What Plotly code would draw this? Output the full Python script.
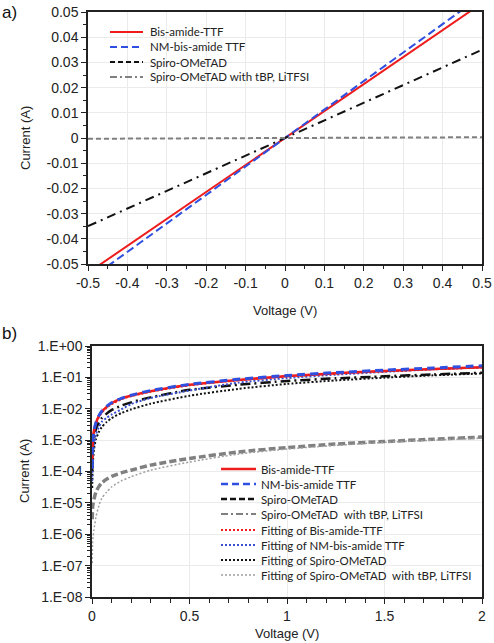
import plotly.graph_objects as go

W, H = 494, 643

# ---------------- data: panel a (linear I-V) ----------------
va = [-0.5, -0.4, -0.3, -0.2, -0.1, 0.0, 0.1, 0.2, 0.3, 0.4, 0.5]
ia_bis = [-0.0535, -0.0428, -0.0321, -0.0214, -0.0107, 0.0, 0.0107, 0.0214, 0.0321, 0.0428, 0.0535]
ia_nm = [-0.0565, -0.0452, -0.0339, -0.0226, -0.0113, 0.0, 0.0113, 0.0226, 0.0339, 0.0452, 0.0565]
ia_spiro = [-0.035, -0.028, -0.021, -0.014, -0.007, 0.0, 0.007, 0.014, 0.021, 0.028, 0.035]
ia_spiro_li = [-0.0003, -0.00024, -0.00018, -0.00012, -0.00006, 0.0, 0.00006, 0.00012, 0.00018, 0.00024, 0.0003]

a_xtickvals = [-0.5, -0.4, -0.3, -0.2, -0.1, 0.0, 0.1, 0.2, 0.3, 0.4, 0.5]
a_xticktext = ["-0.5", "-0.4", "-0.3", "-0.2", "-0.1", "0", "0.1", "0.2", "0.3", "0.4", "0.5"]
a_ytickvals = [-0.05, -0.04, -0.03, -0.02, -0.01, 0.0, 0.01, 0.02, 0.03, 0.04, 0.05]
a_yticktext = ["-0.05", "-0.04", "-0.03", "-0.02", "-0.01", "0", "0.01", "0.02", "0.03", "0.04", "0.05"]

# ---------------- data: panel b (log I-V) ----------------
vb = [0.001, 0.003, 0.006, 0.01, 0.02, 0.035, 0.05, 0.075, 0.1, 0.15, 0.2, 0.3, 0.5, 0.75, 1.0, 1.25, 1.5, 1.75, 2.0]
ib_bis = [2.5e-4, 7e-4, 1.3e-3, 2.0e-3, 3.5e-3, 5.8e-3, 8e-3, 0.0115, 0.015, 0.021, 0.026, 0.036, 0.058, 0.083, 0.11, 0.135, 0.16, 0.185, 0.21]
ib_nm = [1.3e-4, 6e-4, 1.2e-3, 2.0e-3, 3.6e-3, 6e-3, 8.3e-3, 0.012, 0.0155, 0.0215, 0.027, 0.038, 0.06, 0.087, 0.115, 0.142, 0.17, 0.2, 0.235]
ib_spiro = [1e-4, 3.5e-4, 7e-4, 1.1e-3, 2.2e-3, 3.6e-3, 5e-3, 7e-3, 9e-3, 0.0125, 0.016, 0.023, 0.04, 0.058, 0.077, 0.093, 0.108, 0.124, 0.14]
ib_spiro_li = [3e-6, 7e-6, 1e-5, 1.3e-5, 2.2e-5, 3.3e-5, 4.3e-5, 5.7e-5, 7e-5, 9e-5, 1.1e-4, 1.6e-4, 2.6e-4, 4.2e-4, 5.8e-4, 7.5e-4, 9e-4, 1.07e-3, 1.25e-3]
fit_bis = [2e-4, 6e-4, 1.15e-3, 1.8e-3, 3.2e-3, 5.3e-3, 7.4e-3, 0.0108, 0.014, 0.02, 0.025, 0.035, 0.056, 0.081, 0.107, 0.132, 0.157, 0.182, 0.207]
fit_nm = [5e-5, 1.8e-4, 4e-4, 7e-4, 1.5e-3, 2.6e-3, 3.8e-3, 5.2e-3, 6.5e-3, 9.5e-3, 0.014, 0.022, 0.038, 0.068, 0.095, 0.122, 0.15, 0.18, 0.21]
fit_spiro = [3e-5, 1.1e-4, 2.6e-4, 5e-4, 1.05e-3, 1.8e-3, 2.6e-3, 3.8e-3, 5e-3, 7.3e-3, 9.5e-3, 0.0145, 0.026, 0.043, 0.062, 0.08, 0.098, 0.116, 0.133]
fit_spiro_li = [1.2e-7, 5e-7, 9e-7, 1.4e-6, 3.5e-6, 8e-6, 1.4e-5, 2.2e-5, 3.2e-5, 5e-5, 6.8e-5, 1.1e-4, 2e-4, 3.6e-4, 5.2e-4, 6.8e-4, 8.5e-4, 1.0e-3, 1.15e-3]

a_names = ["Bis-amide-TTF", "NM-bis-amide TTF", "Spiro-OMeTAD", "Spiro-OMeTAD with tBP, LiTFSI"]
b_names = ["Bis-amide-TTF", "NM-bis-amide TTF", "Spiro-OMeTAD", "Spiro-OMeTAD  with tBP, LiTFSI",
           "Fitting of Bis-amide-TTF", "Fitting of NM-bis-amide TTF", "Fitting of Spiro-OMeTAD",
           "Fitting of Spiro-OMeTAD  with tBP, LiTFSI"]
b_tickvals = [1e0, 1e-1, 1e-2, 1e-3, 1e-4, 1e-5, 1e-6, 1e-7, 1e-8]
b_ticktext = ["1.E+00", "1.E-01", "1.E-02", "1.E-03", "1.E-04", "1.E-05", "1.E-06", "1.E-07", "1.E-08"]

# ---------------- styles ----------------
RED, BLUE, BLACK, GRAY, LGRAY = "#ee1c1c", "#2f4fe0", "#111111", "#808080", "#a0a0a0"
a_styles = [
    dict(color=RED, width=2, dash="solid"),
    dict(color=BLUE, width=2, dash="8px,4px"),
    dict(color=BLACK, width=2, dash="9px,5px,2px,5px"),
    dict(color=GRAY, width=2, dash="5px,3px"),
]
a_legend_styles = [
    dict(color=RED, width=2, dash="solid"),
    dict(color=BLUE, width=2, dash="7px,4px"),
    dict(color=BLACK, width=2, dash="5px,3px"),
    dict(color=GRAY, width=2, dash="7px,3px,2px,3px"),
]
b_styles = [
    dict(color=RED, width=2.5, dash="solid"),
    dict(color=BLUE, width=3, dash="8px,5px"),
    dict(color=BLACK, width=2.5, dash="10px,4px,2px,4px"),
    dict(color=GRAY, width=3.5, dash="7px,3px"),
    dict(color=RED, width=2, dash="2px,2px"),
    dict(color="#3a4fd0", width=2, dash="2px,2px"),
    dict(color=BLACK, width=2, dash="2px,2px"),
    dict(color=LGRAY, width=1.5, dash="2px,2px"),
]
b_legend_styles = [
    dict(color=RED, width=2.5, dash="solid"),
    dict(color=BLUE, width=2.5, dash="7px,4px"),
    dict(color=BLACK, width=2.5, dash="6px,3px"),
    dict(color=GRAY, width=2, dash="7px,3px,2px,3px"),
    dict(color=RED, width=2, dash="2px,2px"),
    dict(color="#3a4fd0", width=2, dash="2px,2px"),
    dict(color=BLACK, width=2, dash="2px,2px"),
    dict(color=LGRAY, width=1.5, dash="2px,2px"),
]


def px(x):
    return x / W


def py(y):
    return 1 - y / H


fig = go.Figure()

for ys, st in zip([ia_bis, ia_nm, ia_spiro, ia_spiro_li], a_styles):
    fig.add_trace(go.Scatter(x=va, y=ys, mode="lines", line=st, xaxis="x", yaxis="y",
                             showlegend=False, hoverinfo="skip"))

b_series = [ib_bis, ib_nm, ib_spiro, ib_spiro_li, fit_bis, fit_nm, fit_spiro, fit_spiro_li]
order = [3, 7, 6, 2, 5, 4, 0, 1]
for k in order:
    fig.add_trace(go.Scatter(x=vb, y=b_series[k], mode="lines",
                             line=dict(**b_styles[k], shape="spline", smoothing=0.6),
                             xaxis="x2", yaxis="y2", showlegend=False, hoverinfo="skip"))

TICKFONT = dict(family="Liberation Sans, Arial", size=14, color="#222")
TITLEFONT = dict(family="Liberation Sans, Arial", size=13, color="#222")
GRID = "#ebebeb"

common = dict(showline=True, linecolor="#222", linewidth=1.5, mirror=True,
              ticks="outside", ticklen=5, tickcolor="#222", tickwidth=1.2,
              gridcolor=GRID, gridwidth=1, zeroline=False, tickfont=TICKFONT,
              automargin=False)

fig.update_layout(
    width=W, height=H,
    margin=dict(l=0, r=0, t=0, b=0),
    paper_bgcolor="white", plot_bgcolor="white",
    xaxis=dict(domain=[px(88), px(482)], anchor="y", range=[-0.5, 0.5],
               tickvals=a_xtickvals, ticktext=a_xticktext,
               minor=dict(dtick=0.05, ticks="outside", ticklen=3,
                          tickcolor="#222", showgrid=False), **common),
    yaxis=dict(domain=[py(264), py(12)], anchor="x", range=[-0.05, 0.05],
               tickvals=a_ytickvals, ticktext=a_yticktext,
               minor=dict(dtick=0.005, ticks="outside", ticklen=3,
                          tickcolor="#222", showgrid=False), **common),
    xaxis2=dict(domain=[px(92), px(482)], anchor="y2", range=[0, 2], dtick=0.5,
                tickformat="~g", minor=dict(dtick=0.1, ticks="outside", ticklen=4,
                                            tickcolor="#222", showgrid=False), **common),
    yaxis2=dict(domain=[py(597), py(346)], anchor="x2", type="log", range=[-8, 0],
                tickvals=b_tickvals, ticktext=b_ticktext,
                minor=dict(ticks="outside", ticklen=3, tickcolor="#222", showgrid=False,
                           dtick="D1"), **common),
)

shapes = []
annotations = []
LEGFONT = dict(family="Lato, Open Sans", size=11.5, color="#222")

# legend a
a_rows = [32, 47, 62, 77]
for name, st, yy in zip(a_names, a_legend_styles, a_rows):
    shapes.append(dict(type="line", xref="paper", yref="paper", x0=px(110), x1=px(143),
                       y0=py(yy), y1=py(yy), line=st))
    annotations.append(dict(text=name, xref="paper", yref="paper", x=px(148), y=py(yy),
                            xanchor="left", yanchor="middle", showarrow=False, font=LEGFONT))

# legend b
b_rows = [469, 484, 499, 514, 530, 545, 560, 575]
for name, st, yy in zip(b_names, b_legend_styles, b_rows):
    shapes.append(dict(type="line", xref="paper", yref="paper", x0=px(221), x1=px(256),
                       y0=py(yy), y1=py(yy), line=st))
    annotations.append(dict(text=name, xref="paper", yref="paper", x=px(259), y=py(yy),
                            xanchor="left", yanchor="middle", showarrow=False, font=LEGFONT))

# axis titles & panel labels
annotations += [
    dict(text="Current (A)", xref="paper", yref="paper", x=px(25), y=py(138), textangle=-90,
         xanchor="center", yanchor="middle", showarrow=False, font=TITLEFONT),
    dict(text="Voltage (V)", xref="paper", yref="paper", x=px(285), y=py(310),
         xanchor="center", yanchor="middle", showarrow=False, font=TITLEFONT),
    dict(text="Current (A)", xref="paper", yref="paper", x=px(25), y=py(471), textangle=-90,
         xanchor="center", yanchor="middle", showarrow=False, font=TITLEFONT),
    dict(text="Voltage (V)", xref="paper", yref="paper", x=px(287), y=py(633),
         xanchor="center", yanchor="middle", showarrow=False, font=TITLEFONT),
    dict(text="a)", xref="paper", yref="paper", x=px(0), y=py(12),
         xanchor="left", yanchor="middle", showarrow=False,
         font=dict(family="Liberation Sans, Arial", size=17, color="#111")),
    dict(text="b)", xref="paper", yref="paper", x=px(0), y=py(333),
         xanchor="left", yanchor="middle", showarrow=False,
         font=dict(family="Liberation Sans, Arial", size=17, color="#111")),
]
fig.update_layout(shapes=shapes, annotations=annotations)

fig.write_html("out.html")
